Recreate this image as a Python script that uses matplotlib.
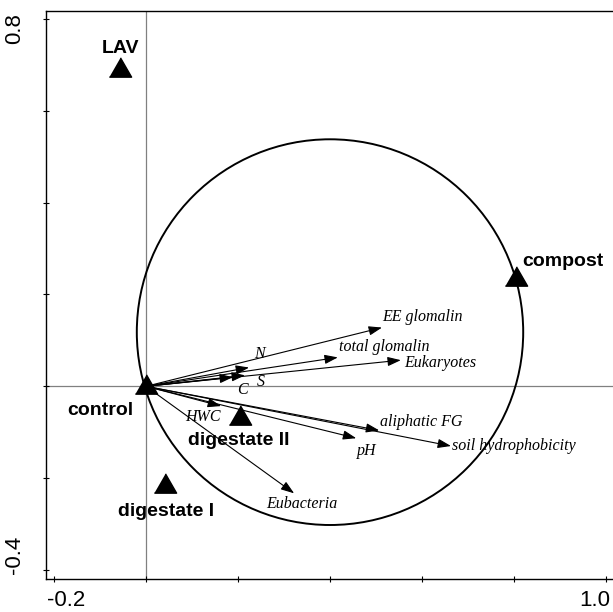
import matplotlib
matplotlib.use("Agg")
import matplotlib.pyplot as plt
import numpy as np
from matplotlib.patches import Circle

# Sample scores
samples = ["LAV", "compost", "control", "digestate II", "digestate I"]
sample_x = [-0.0565, 0.805, 0.0, 0.204, 0.041]
sample_y = [0.695, 0.240, 0.006, -0.062, -0.211]

# Sample label positions (centre x, baseline y)
sample_lab_x = [-0.0565, 0.9065, -0.10, 0.202, 0.043]
sample_lab_y = [0.726, 0.263, -0.063, -0.128, -0.283]

# Variable vectors
variables = ["EE glomalin", "total glomalin", "Eukaryotes", "N", "S", "C", "HWC",
             "aliphatic FG", "soil hydrophobicity", "pH", "Eubacteria"]
var_x = [0.513, 0.417, 0.554, 0.224, 0.215, 0.189, 0.163, 0.507, 0.663, 0.457, 0.322]
var_y = [0.128, 0.063, 0.057, 0.041, 0.024, 0.020, -0.043, -0.096, -0.130, -0.113, -0.233]

# Variable label positions
var_lab_x = [0.513, 0.420, 0.561, 0.246, 0.250, 0.209, 0.124, 0.509, 0.665, 0.480, 0.339]
var_lab_y = [0.150, 0.085, 0.050, 0.070, 0.009, -0.009, -0.067, -0.078, -0.130, -0.141, -0.257]
var_lab_ha = ["left", "left", "left", "center", "center", "center", "center",
              "left", "left", "center", "center"]

# Correlation circle
circle_cx, circle_cy, circle_r = 0.40, 0.118, 0.42

xticks = [-0.2, 0.0, 0.2, 0.4, 0.6, 0.8, 1.0]
yticks = [-0.4, -0.2, 0.0, 0.2, 0.4, 0.6, 0.8]

fig = plt.figure(figsize=(6.13, 6.12), dpi=100)
ax = fig.add_axes([46/613, 33/612, 567/613, 568/612])
ax.set_xlim(-0.2174, 1.0152)
ax.set_ylim(-0.4196, 0.8174)

ax.axhline(0, color="#808080", lw=0.9, zorder=1)
ax.axvline(0, color="#808080", lw=0.9, zorder=1)

ax.add_patch(Circle((circle_cx, circle_cy), circle_r, fill=False, ec="black", lw=1.4, zorder=2))

for x, y in zip(var_x, var_y):
    ax.annotate("", xy=(x, y), xytext=(0, 0),
                arrowprops=dict(arrowstyle="-|>,head_length=0.8,head_width=0.28",
                                color="black", lw=0.8, shrinkA=0, shrinkB=0),
                zorder=3)

for name, x, y, ha in zip(variables, var_lab_x, var_lab_y, var_lab_ha):
    ax.text(x, y, name, ha=ha, va="center", fontsize=11.5, style="italic",
            family="Liberation Serif", zorder=4)

tri = [(-1, -0.87), (1, -0.87), (0, 0.87)]
ax.plot(sample_x, sample_y, linestyle="none", marker=tri, markersize=16,
        color="black", zorder=5)

for name, x, y in zip(samples, sample_lab_x, sample_lab_y):
    ax.text(x, y, name, ha="center", va="baseline", fontsize=14, fontweight="bold",
            family="Liberation Sans", zorder=6)

ax.set_xticks(xticks)
ax.set_yticks(yticks)
ax.set_xticklabels([])
ax.set_yticklabels([])
ax.tick_params(direction="inout", length=5, width=0.8)
ax.spines["right"].set_visible(False)
for s in ["left", "bottom", "top"]:
    ax.spines[s].set_linewidth(1.0)

# tick labels as text (only the ends are labelled)
ax.text(-0.174, -0.4196 - 22/460, "-0.2", ha="center", va="center", fontsize=16,
        family="Liberation Sans", clip_on=False)
ax.text(0.976, -0.4196 - 22/460, "1.0", ha="center", va="center", fontsize=16,
        family="Liberation Sans", clip_on=False)
ax.text(-0.2174 - 31/460, 0.780, "0.8", ha="center", va="center", fontsize=16,
        rotation=90, family="Liberation Sans", clip_on=False)
ax.text(-0.2174 - 31/460, -0.367, "-0.4", ha="center", va="center", fontsize=16,
        rotation=90, family="Liberation Sans", clip_on=False)

fig.savefig("out.png", dpi=100)
